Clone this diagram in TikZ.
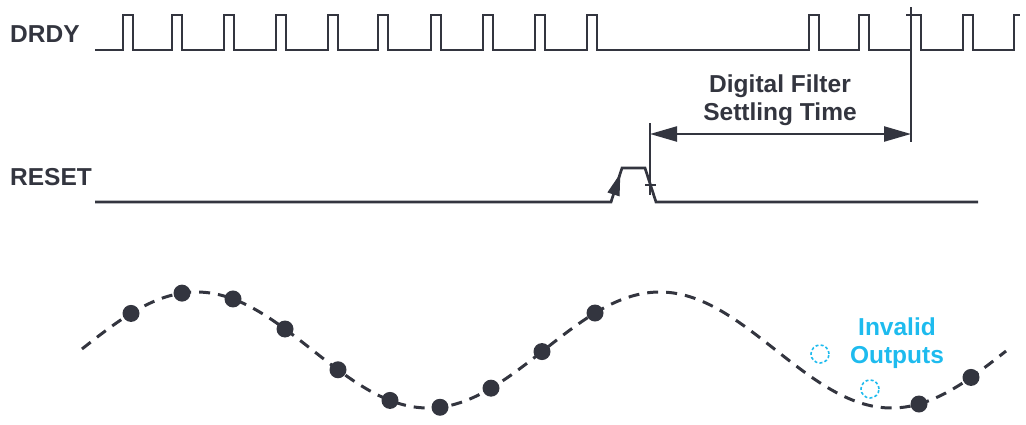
\documentclass[tikz,border=0pt]{standalone}
\usepackage{fontspec}
\setmainfont{Liberation Sans}
\usetikzlibrary{arrows.meta}
\definecolor{ink}{RGB}{51,53,63}
\definecolor{sky}{RGB}{30,187,238}
\tikzset{bigtip/.tip={Triangle[length=27pt,width=15pt]}}
\begin{document}
\begin{tikzpicture}[x=1pt,y=-1pt,
  sig/.style={draw=ink, line width=2.7pt, line join=miter},
  markline/.style={draw=ink, line width=2.3pt},
  lbl/.style={font=\fontsize{24.5}{29}\selectfont\bfseries, text=ink, inner sep=0pt},
  bluelbl/.style={font=\fontsize{24.5}{29}\selectfont\bfseries, text=sky, inner sep=0pt},
  wave/.style={draw=ink, line width=3pt, dash pattern=on 11pt off 8pt},
  sample/.style={fill=ink},
  invalid/.style={draw=sky, line width=1.6pt, dash pattern=on 3pt off 2.2pt}
]
\useasboundingbox (0,0) rectangle (1026,424);

% labels
\node[lbl, anchor=base west] (drdy) at (10,42) {DRDY};
\node[lbl, anchor=base west] (reset) at (10,185) {RESET};
\node[lbl, anchor=base] (dfl1) at (780,92) {Digital Filter};
\node[lbl, anchor=base] (dfl2) at (780,120) {Settling Time};
\node[bluelbl, anchor=base] (inv1) at (897,335) {Invalid};
\node[bluelbl, anchor=base] (inv2) at (897,363) {Outputs};

% DRDY waveform
\draw[sig] (95,50)
  \foreach \p in {123,172,224,276,328,378,431,483,535,587,809,859,911,963}
  { -- (\p,50) -- (\p,15) -- ({\p+10},15) -- ({\p+10},50) }
  -- (1014,50) -- (1014,15) -- (1020,15);
\draw[sig] (906,15) -- (911,15);

% RESET waveform
\draw[sig] (95,202) -- (611,202) -- (622,168) -- (645,168) -- (656,202) -- (978,202);
\draw[draw=ink, line width=1pt, -{Triangle[length=22pt,width=12.5pt]}] (611,202) -- (620.3,173.5);

% markers and dimension arrow
\coordinate (mtopA) at (650,123);
\coordinate (mbotA) at (650,195);
\coordinate (mtopB) at (911,7);
\coordinate (mbotB) at (911,142);
\coordinate (tickL) at (645,185);
\coordinate (tickR) at (656,185);
\coordinate (arrL) at (650,134);
\coordinate (arrR) at (911,134);
\draw[markline] (mtopA) -- (mbotA);
\draw[markline] (mtopB) -- (mbotB);
\draw[markline] (tickL) -- (tickR);
\draw[markline, bigtip-bigtip] (arrL) -- (arrR);

% signal
\draw[wave] plot[domain=82:1006, samples=200, smooth]
  (\x, {350 - 58*cos(0.777*(\x-196.5))});
\foreach \sx in {131,182,233,285,338,390,440,491,542,595,919,971} {
  \pgfmathsetmacro\sy{350 - 58*cos(0.777*(\sx-196.5))}
  \fill[sample] (\sx,\sy) circle[radius=8.5pt];
}
\draw[invalid] (820,354) circle[radius=9pt];
\draw[invalid] (870,389) circle[radius=9pt];
\end{tikzpicture}
\end{document}
